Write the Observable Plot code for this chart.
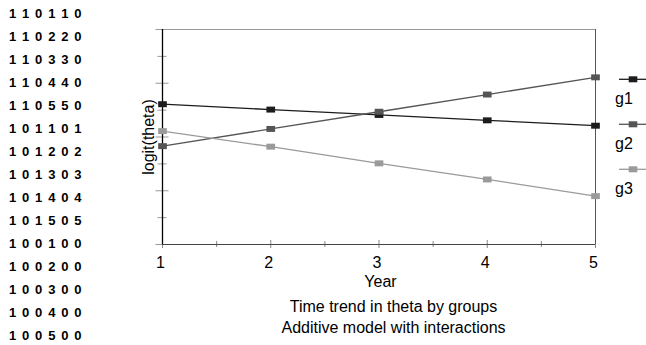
<!DOCTYPE html>
<html>
<head>
<meta charset="utf-8">
<script src="https://cdn.jsdelivr.net/npm/d3@7"></script>
<script src="https://cdn.jsdelivr.net/npm/@observablehq/plot@0.6"></script>
<style>
  html, body { margin: 0; padding: 0; background: #fff; }
  #wrap { position: relative; width: 646px; height: 345px; overflow: hidden; font-family: "Liberation Sans", Arial, sans-serif; }
  #rows { position: absolute; left: 0; top: 0; }
  #rows div { position: absolute; left: 9px; white-space: pre; font-weight: bold; font-size: 13px; line-height: 13px; letter-spacing: 1.1px; color: #000; }
  #chart { position: absolute; left: 0; top: 0; }
  #legend { position: absolute; left: 0; top: 0; }
</style>
</head>
<body>
<div id="wrap">
  <div id="chart"></div>
  <div id="rows"></div>
  <svg id="legend" width="646" height="345"></svg>
</div>
<script>
// ---- data ----
const years = [1, 2, 3, 4, 5];
const groups = ["g1", "g2", "g3"];
const colors = ["#1c1c1c", "#555555", "#9a9a9a"];
const g1 = [0.61, 0.51, 0.41, 0.31, 0.21];
const g2 = [-0.17, 0.15, 0.47, 0.79, 1.11];
const g3 = [0.11, -0.18, -0.49, -0.79, -1.10];
const yMajorTicks = [-2, -1, 0, 1, 2];
const yMinorTicks = [-1.5, -0.5, 0.5, 1.5];
const xMinorTicks = [1.5, 2.5, 3.5, 4.5];
const rowLabels = ["110110", "110220", "110330", "110440", "110550",
                   "101101", "101202", "101303", "101404", "101505",
                   "100100", "100200", "100300", "100400", "100500"];
const xLabel = "Year";
const yLabel = "logit(theta)";
const title = "Time trend in theta by groups";
const subtitle = "Additive model with interactions";

const series = [g1, g2, g3];
const table = groups.flatMap((g, gi) => years.map((yr, i) => ({group: g, year: yr, value: series[gi][i]})));

// wide square marker
const box = {draw(ctx, size) { const s = Math.sqrt(size); const w = s * 0.7, h = s * 0.48; ctx.moveTo(-w, -h); ctx.lineTo(w, -h); ctx.lineTo(w, h); ctx.lineTo(-w, h); ctx.closePath(); }};

const font = "Liberation Sans, Arial, sans-serif";

const chart = Plot.plot({
  width: 646,
  height: 345,
  marginLeft: 162,
  marginRight: 51,
  marginTop: 29,
  marginBottom: 101,
  x: {domain: [1, 5], label: null},
  y: {domain: [-2, 2], label: null},
  color: {domain: groups, range: colors},
  style: {fontFamily: font, fontSize: "16px", background: "transparent", color: "#000", overflow: "visible"},
  marks: [
    Plot.axisY(yMajorTicks, {tickSize: 13, dx: 6.5, tickFormat: () => "", stroke: "#999", label: null}),
    Plot.axisY(yMinorTicks, {tickSize: 9, dx: 4.5, tickFormat: () => "", stroke: "#999", label: null}),
    Plot.axisX(years, {tickSize: 8, dy: -4, tickFormat: () => "", stroke: "#888", label: null}),
    Plot.axisX(xMinorTicks, {tickSize: 6, dy: -3, tickFormat: () => "", stroke: "#888", label: null}),
    Plot.ruleY([2], {stroke: "#999"}),
    Plot.ruleX([5], {stroke: "#555"}),
    Plot.ruleY([-2], {stroke: "#444"}),
    Plot.ruleX([1], {stroke: "#000", strokeWidth: 1.3}),
    Plot.line(table, {x: "year", y: "value", z: "group", stroke: "group", strokeWidth: 1.3}),
    Plot.dot(table, {x: "year", y: "value", fill: "group", symbol: box, r: 3.5}),
    Plot.text(years, {x: d => d, text: d => String(d), frameAnchor: "bottom", dy: 23.7, dx: -2, fontSize: 16, fill: "#000"}),
    Plot.text([xLabel], {text: d => d, frameAnchor: "bottom", dy: 42.5, dx: 1.5, fontSize: 16, fill: "#000"}),
    Plot.text([title], {text: d => d, frameAnchor: "bottom", dy: 67.7, dx: 14.5, fontSize: 16, fill: "#000"}),
    Plot.text([subtitle], {text: d => d, frameAnchor: "bottom", dy: 88.7, dx: 14.5, fontSize: 16, fill: "#000"}),
    Plot.text([yLabel], {text: d => d, frameAnchor: "left", textAnchor: "middle", dx: -14, rotate: -90, fontSize: 16, fill: "#000"})
  ]
});
document.getElementById("chart").appendChild(chart);

// left column of labels
const rows = d3.select("#rows");
rowLabels.forEach((r, i) => {
  rows.append("div").style("top", (7.4 + 23 * i) + "px").text(r.split("").join(" "));
});

// legend
const leg = d3.select("#legend");
const legTop = 79.3, legStep = 45;
groups.forEach((g, i) => {
  const y = legTop + legStep * i;
  leg.append("line").attr("x1", 619).attr("x2", 646).attr("y1", y).attr("y2", y)
     .attr("stroke", colors[i]).attr("stroke-width", 1.3);
  leg.append("rect").attr("x", 633 - 4.3).attr("y", y - 3).attr("width", 8.6).attr("height", 6).attr("fill", colors[i]);
  leg.append("text").attr("x", 615).attr("y", y + 19.5).attr("dy", "0.32em")
     .attr("font-family", font).attr("font-size", 16).attr("fill", "#000").text(g);
});
</script>
</body>
</html>
